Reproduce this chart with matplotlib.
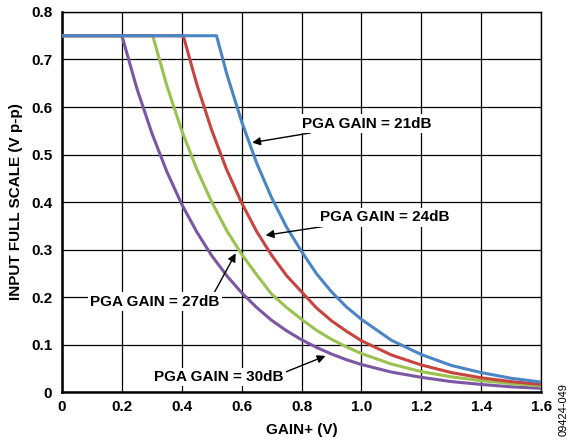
import matplotlib
matplotlib.use("Agg")
import matplotlib.pyplot as plt

plt.rcParams['font.family'] = ['Liberation Sans', 'DejaVu Sans']
plt.rcParams['font.weight'] = 'bold'

# GAIN+ (V) vs input full scale (V p-p)
x_21 = [0, 0.516, 0.55, 0.60, 0.65, 0.70, 0.75, 0.80, 0.85, 0.90, 0.95, 1.0, 1.1, 1.2, 1.3, 1.4, 1.5, 1.6]
y_21 = [0.75, 0.75, 0.670, 0.569, 0.482, 0.409, 0.347, 0.296, 0.249, 0.211, 0.179, 0.153, 0.109, 0.079, 0.056, 0.041, 0.029, 0.021]

x_24 = [0, 0.405, 0.45, 0.50, 0.55, 0.60, 0.65, 0.70, 0.75, 0.80, 0.85, 0.90, 0.95, 1.0, 1.1, 1.2, 1.3, 1.4, 1.5, 1.6]
y_24 = [0.75, 0.75, 0.648, 0.551, 0.468, 0.398, 0.338, 0.288, 0.245, 0.211, 0.177, 0.150, 0.128, 0.108, 0.078, 0.057, 0.041, 0.030, 0.022, 0.016]

x_27 = [0, 0.303, 0.35, 0.40, 0.45, 0.50, 0.55, 0.60, 0.65, 0.70, 0.75, 0.80, 0.85, 0.90, 0.95, 1.0, 1.1, 1.2, 1.3, 1.4, 1.5, 1.6]
y_27 = [0.75, 0.75, 0.645, 0.550, 0.469, 0.400, 0.340, 0.290, 0.247, 0.206, 0.178, 0.153, 0.130, 0.111, 0.095, 0.081, 0.059, 0.043, 0.032, 0.024, 0.018, 0.013]

x_30 = [0, 0.20, 0.25, 0.30, 0.35, 0.40, 0.45, 0.50, 0.55, 0.60, 0.65, 0.70, 0.75, 0.80, 0.85, 0.90, 0.95, 1.0, 1.1, 1.2, 1.3, 1.4, 1.5, 1.6]
y_30 = [0.75, 0.75, 0.639, 0.545, 0.464, 0.395, 0.337, 0.287, 0.245, 0.209, 0.178, 0.151, 0.129, 0.110, 0.094, 0.080, 0.068, 0.058, 0.042, 0.031, 0.022, 0.016, 0.011, 0.008]

colors = ['#4a85c6', '#c9433f', '#9bc24e', '#7b57a3']

fig = plt.figure(figsize=(5.69, 4.44), dpi=100)
ax = fig.add_axes([0.109, 0.117, 0.842, 0.856])

ax.plot(x_30, y_30, color=colors[3], lw=2.2, zorder=3)
ax.plot(x_27, y_27, color=colors[2], lw=2.2, zorder=3)
ax.plot(x_24, y_24, color=colors[1], lw=2.2, zorder=3)
ax.plot(x_21, y_21, color=colors[0], lw=2.2, zorder=3)

ax.set_xlim(0, 1.6)
ax.set_ylim(0, 0.8)
ax.set_xticks([0, 0.2, 0.4, 0.6, 0.8, 1.0, 1.2, 1.4, 1.6])
ax.set_xticklabels(['0', '0.2', '0.4', '0.6', '0.8', '1.0', '1.2', '1.4', '1.6'])
ax.set_yticks([0, 0.1, 0.2, 0.3, 0.4, 0.5, 0.6, 0.7, 0.8])
ax.set_yticklabels(['0', '0.1', '0.2', '0.3', '0.4', '0.5', '0.6', '0.7', '0.8'])
ax.tick_params(length=0, labelsize=11)
ax.tick_params(axis='y', pad=7)
ax.tick_params(axis='x', pad=6)
ax.grid(True, color='black', lw=0.9, zorder=1)

for s in ['top', 'right']:
    ax.spines[s].set_linewidth(1.0)
for s in ['left', 'bottom']:
    ax.spines[s].set_linewidth(1.8)

ax.set_xlabel('GAIN+ (V)', fontsize=11, fontweight='bold', labelpad=6)
ax.set_ylabel('INPUT FULL SCALE (V p-p)', fontsize=11, fontweight='bold', labelpad=6)

box = dict(boxstyle='square,pad=0.15', fc='white', ec='none')
arrow = dict(arrowstyle='-|>', color='black', lw=1.0, mutation_scale=12, shrinkA=0, shrinkB=0)

ax.annotate('PGA GAIN = 21dB', xy=(0.635, 0.525), xytext=(0.80, 0.565),
            fontsize=11, fontweight='bold', va='center', ha='left',
            bbox=box, arrowprops=arrow, zorder=4)
ax.annotate('PGA GAIN = 24dB', xy=(0.68, 0.33), xytext=(0.86, 0.368),
            fontsize=11, fontweight='bold', va='center', ha='left',
            bbox=box, arrowprops=arrow, zorder=4)
ax.annotate('PGA GAIN = 27dB', xy=(0.58, 0.292), xytext=(0.31, 0.19),
            fontsize=11, fontweight='bold', va='center', ha='center',
            bbox=box, arrowprops=dict(arrowstyle='-|>', color='black', lw=1.0,
                                      mutation_scale=12, shrinkA=0, shrinkB=0,
                                      relpos=(0.95, 1.0)), zorder=4)
ax.annotate('PGA GAIN = 30dB', xy=(0.88, 0.076), xytext=(0.525, 0.032),
            fontsize=11, fontweight='bold', va='center', ha='center',
            bbox=box, arrowprops=dict(arrowstyle='-|>', color='black', lw=1.0,
                                      mutation_scale=12, shrinkA=0, shrinkB=0,
                                      relpos=(1.0, 0.8)), zorder=4)

fig.text(0.999, 0.077, '09424-049', rotation=90, fontsize=8, fontweight='normal',
         ha='right', va='center')

fig.savefig('out.png', dpi=100)
